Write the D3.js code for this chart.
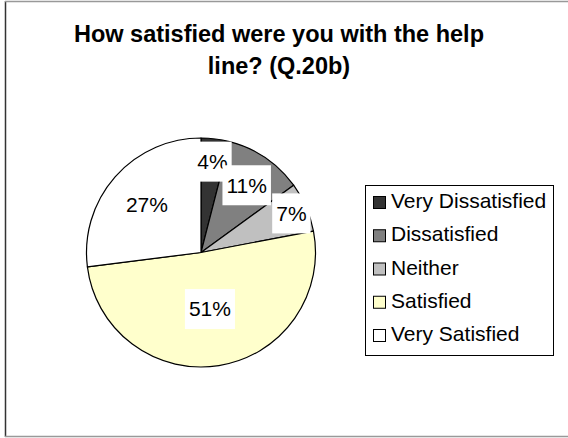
<!DOCTYPE html>
<html>
<head>
<meta charset="utf-8">
<script src="https://cdn.jsdelivr.net/npm/d3@7"></script>
<style>
  html, body { margin: 0; padding: 0; background: #fff; }
  svg { display: block; font-family: "Liberation Sans", Arial, sans-serif; }
</style>
</head>
<body>
<svg id="chart" width="568" height="438"></svg>
<script>
// Survey responses, Q.20b
const categories = ["Very Dissatisfied", "Dissatisfied", "Neither", "Satisfied", "Very Satisfied"];
const values = [4, 11, 7, 51, 27];
const colors = ["#333333", "#808080", "#c0c0c0", "#ffffcc", "#ffffff"];
const titleLines = ["How satisfied were you with the help", "line? (Q.20b)"];

// how far out (fraction of radius) each percentage label sits
const labelRadius = [0.80, 0.71, 0.86, 0.50, 0.63];

const svg = d3.select("#chart");
const W = 568, H = 438;

// chart frame
svg.append("rect").attr("x", 0).attr("y", 0).attr("width", W).attr("height", H).attr("fill", "#fff");
svg.append("line").attr("x1", 5.5).attr("x2", 5.5).attr("y1", 1).attr("y2", 437)
  .attr("stroke", "#333").attr("stroke-width", 1.5);
svg.append("line").attr("x1", 5).attr("x2", W).attr("y1", 1.5).attr("y2", 1.5)
  .attr("stroke", "#999").attr("stroke-width", 1.5);
svg.append("line").attr("x1", 5).attr("x2", W).attr("y1", 436.5).attr("y2", 436.5)
  .attr("stroke", "#999").attr("stroke-width", 1.5);

// title
svg.append("text")
  .attr("text-anchor", "middle")
  .attr("font-weight", "bold")
  .attr("font-size", 23.5)
  .attr("fill", "#000")
  .selectAll("tspan")
  .data(titleLines)
  .join("tspan")
  .attr("x", 279)
  .attr("y", (d, i) => 42 + i * 32)
  .text(d => d);

// pie
const cx = 201, cy = 252.5, R = 114.5;
const data = categories.map((c, i) => ({ name: c, value: values[i], color: colors[i], lr: labelRadius[i] }));
const pie = d3.pie().value(d => d.value).sort(null);
const arcs = pie(data);
const arc = d3.arc().innerRadius(0).outerRadius(R);

const g = svg.append("g").attr("transform", `translate(${cx},${cy})`);
g.selectAll("path.slice")
  .data(arcs)
  .join("path")
  .attr("class", "slice")
  .attr("d", arc)
  .attr("fill", d => d.data.color)
  .attr("stroke", "#000")
  .attr("stroke-width", 1.2)
  .attr("stroke-linejoin", "round");

// percentage labels on white boxes
const total = d3.sum(values);
const labels = g.selectAll("g.lbl")
  .data(arcs)
  .join("g")
  .attr("class", "lbl")
  .attr("transform", d => {
    const a = (d.startAngle + d.endAngle) / 2;
    const r = R * d.data.lr;
    return `translate(${Math.sin(a) * r},${-Math.cos(a) * r})`;
  });

labels.each(function(d) {
  const sel = d3.select(this);
  const txt = sel.append("text")
    .attr("text-anchor", "middle")
    .attr("dy", "0.35em")
    .attr("font-size", 21)
    .attr("fill", "#000")
    .text(Math.round(d.data.value / total * 100) + "%");
  const w = txt.node().getComputedTextLength() + 8;
  sel.insert("rect", "text")
    .attr("x", -w / 2)
    .attr("y", -20)
    .attr("width", w)
    .attr("height", 40)
    .attr("fill", "#fff");
});

// legend
const legend = svg.append("g");
legend.append("rect")
  .attr("x", 365.5).attr("y", 185.5)
  .attr("width", 188).attr("height", 170)
  .attr("fill", "#fff").attr("stroke", "#000").attr("stroke-width", 1);

const rowY = d3.scalePoint().domain(categories).range([208, 341]);
const items = legend.selectAll("g.item")
  .data(data)
  .join("g")
  .attr("class", "item")
  .attr("transform", d => `translate(0,${rowY(d.name)})`);
items.append("rect")
  .attr("x", 373.5).attr("y", -11.5)
  .attr("width", 12).attr("height", 12)
  .attr("fill", d => d.color)
  .attr("stroke", "#000").attr("stroke-width", 1);
items.append("text")
  .attr("x", 391).attr("y", 0)
  .attr("font-size", 21)
  .attr("fill", "#000")
  .text(d => d.name);
</script>
</body>
</html>
